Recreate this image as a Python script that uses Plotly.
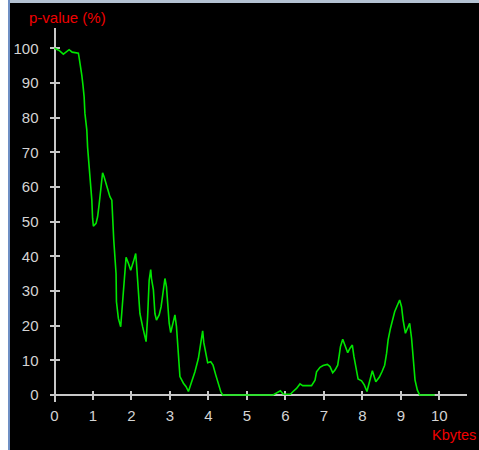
import plotly.graph_objects as go

# p-value (%) versus message size (Kbytes)
kbytes = [0.0, 0.12, 0.23, 0.38, 0.46, 0.62, 0.64, 0.68, 0.71, 0.74,
          0.77, 0.79, 0.84, 0.86, 0.90, 0.94, 0.97, 0.99, 1.01, 1.08,
          1.12, 1.16, 1.19, 1.23, 1.25, 1.29, 1.33, 1.38, 1.44, 1.49,
          1.51, 1.54, 1.60, 1.61, 1.66, 1.72, 1.77, 1.81, 1.86, 1.92,
          1.98, 2.05, 2.11, 2.13, 2.18, 2.22, 2.29, 2.35, 2.38, 2.42,
          2.46, 2.50, 2.52, 2.57, 2.61, 2.65, 2.72, 2.77, 2.81, 2.87,
          2.91, 2.94, 2.98, 3.02, 3.07, 3.13, 3.17, 3.22, 3.26, 3.35,
          3.42, 3.48, 3.56, 3.65, 3.74, 3.80, 3.85, 3.88, 3.94, 3.98,
          4.06, 4.12, 4.19, 4.25, 4.32, 4.37, 5.68, 5.87, 5.94, 6.03,
          6.13, 6.20, 6.29, 6.38, 6.45, 6.68, 6.77, 6.81, 6.90, 6.98,
          7.09, 7.16, 7.23, 7.29, 7.36, 7.40, 7.43, 7.49, 7.55, 7.62,
          7.68, 7.74, 7.78, 7.83, 7.89, 7.98, 8.05, 8.12, 8.18, 8.26,
          8.35, 8.44, 8.51, 8.58, 8.63, 8.67, 8.73, 8.78, 8.84, 8.90,
          8.97, 9.02, 9.06, 9.12, 9.17, 9.23, 9.28, 9.32, 9.37, 9.43,
          9.49, 9.88]

p_value = [100, 99.4, 98.3, 99.6, 98.9, 98.6, 97.3, 94.8, 92.2, 89.3,
           86.0, 81.3, 76.4, 71.5, 66.3, 61.5, 56.2, 51.0, 48.7, 49.5,
           51.4, 55.0, 58.6, 62.0, 64.1, 62.9, 61.5, 59.1, 57.2, 56.2,
           50.9, 44.7, 35.0, 26.9, 22.1, 19.7, 26.9, 32.2, 39.7, 38.0,
           36.0, 38.4, 40.8, 38.0, 30.3, 23.5, 19.7, 16.3, 15.4, 22.6,
           33.1, 36.2, 33.6, 30.3, 23.5, 21.6, 23.1, 25.4, 29.3, 33.6,
           31.2, 26.4, 20.7, 18.0, 20.7, 23.1, 19.7, 12.0, 5.3, 3.4,
           2.4, 1.0, 3.4, 6.7, 10.6, 14.9, 18.5, 15.1, 12.0, 9.3,
           9.6, 8.6, 5.8, 3.4, 1.0, 0, 0, 1.2, 0.3, 0.2,
           0.2, 1.0, 1.9, 3.2, 2.7, 2.7, 4.3, 6.7, 8.0, 8.5,
           8.8, 8.2, 6.4, 7.2, 8.6, 11.5, 13.9, 16.1, 14.4, 12.2,
           13.5, 14.4, 11.2, 8.2, 4.6, 4.1, 2.9, 1.0, 3.8, 7.0,
           3.8, 5.1, 6.7, 8.6, 12.0, 15.9, 19.2, 21.4, 24.0, 25.6,
           27.4, 25.4, 21.6, 17.8, 19.2, 20.7, 16.3, 10.6, 4.3, 1.4,
           0, 0]

x_ticks = list(range(0, 11))
y_ticks = list(range(0, 101, 10))

W, H = 479, 450
ML, MR, MT, MB = 50, 12, 28, 48
X_RANGE = [-0.117, 10.72]
Y_RANGE = [-2.02, 105.86]

AXIS_COLOR = "#c8c8c8"
LABEL_COLOR = "#d4d4d4"
RED = "#f00000"
FONT = "Liberation Sans, Arial, sans-serif"

# normalised positions where the axes cross zero
x_axis_pos = (0 - Y_RANGE[0]) / (Y_RANGE[1] - Y_RANGE[0])
y_axis_pos = (0 - X_RANGE[0]) / (X_RANGE[1] - X_RANGE[0])

fig = go.Figure()
fig.add_trace(go.Scatter(
    x=kbytes, y=p_value, mode="lines",
    line=dict(color="#00e600", width=1.6),
    hoverinfo="skip", showlegend=False,
))
# second (empty) trace on the overlay axes that carry the inner tick halves
fig.add_trace(go.Scatter(x=[], y=[], xaxis="x2", yaxis="y2", showlegend=False))

common = dict(showgrid=False, zeroline=False, layer="below traces",
              tickcolor=AXIS_COLOR, tickwidth=2, ticklen=4)

fig.update_layout(
    width=W, height=H,
    margin=dict(l=ML, r=MR, t=MT, b=MB, pad=0),
    paper_bgcolor="black", plot_bgcolor="black",
    font=dict(family=FONT, size=15, color=LABEL_COLOR),
    xaxis=dict(range=X_RANGE, anchor="free", position=x_axis_pos,
               tickmode="array", tickvals=x_ticks, ticks="outside",
               showline=True, linecolor=AXIS_COLOR, linewidth=2,
               tickfont=dict(size=15, color=LABEL_COLOR), ticklabelstandoff=3,
               **common),
    yaxis=dict(range=Y_RANGE, anchor="free", position=y_axis_pos,
               tickmode="array", tickvals=y_ticks, ticks="outside",
               showline=True, linecolor=AXIS_COLOR, linewidth=2,
               tickfont=dict(size=15, color=LABEL_COLOR), ticklabelstandoff=8,
               **common),
    xaxis2=dict(range=X_RANGE, overlaying="x", anchor="free", position=x_axis_pos,
                tickmode="array", tickvals=x_ticks, ticks="inside",
                showticklabels=False, showline=False, **common),
    yaxis2=dict(range=Y_RANGE, overlaying="y", anchor="free", position=y_axis_pos,
                tickmode="array", tickvals=y_ticks, ticks="inside",
                showticklabels=False, showline=False, **common),
)

pw = W - ML - MR
ph = H - MT - MB


def px_x(v):
    return (v - ML) / pw


def px_y(v):
    return 1 - (v - MT) / ph


# window frame: white strip and blue edge on the left, grey edge on top
fig.add_shape(type="rect", xref="paper", yref="paper",
              x0=px_x(0), x1=px_x(8), y0=px_y(H), y1=px_y(0),
              fillcolor="white", line_width=0, layer="above")
fig.add_shape(type="rect", xref="paper", yref="paper",
              x0=px_x(8), x1=px_x(10), y0=px_y(H), y1=px_y(0),
              fillcolor="#7090c4", line_width=0, layer="above")
fig.add_shape(type="rect", xref="paper", yref="paper",
              x0=px_x(10), x1=px_x(W), y0=px_y(3), y1=px_y(0),
              fillcolor="#b4c2d2", line_width=0, layer="above")

fig.add_annotation(text="p-value (%)", xref="paper", yref="paper",
                   x=px_x(27), y=px_y(18), xanchor="left", yanchor="middle",
                   showarrow=False, font=dict(family=FONT, size=15, color=RED))
fig.add_annotation(text="Kbytes", xref="paper", yref="paper",
                   x=px_x(430), y=px_y(435), xanchor="left", yanchor="middle",
                   showarrow=False, font=dict(family=FONT, size=14.5, color=RED))

fig.write_html("out.html")
